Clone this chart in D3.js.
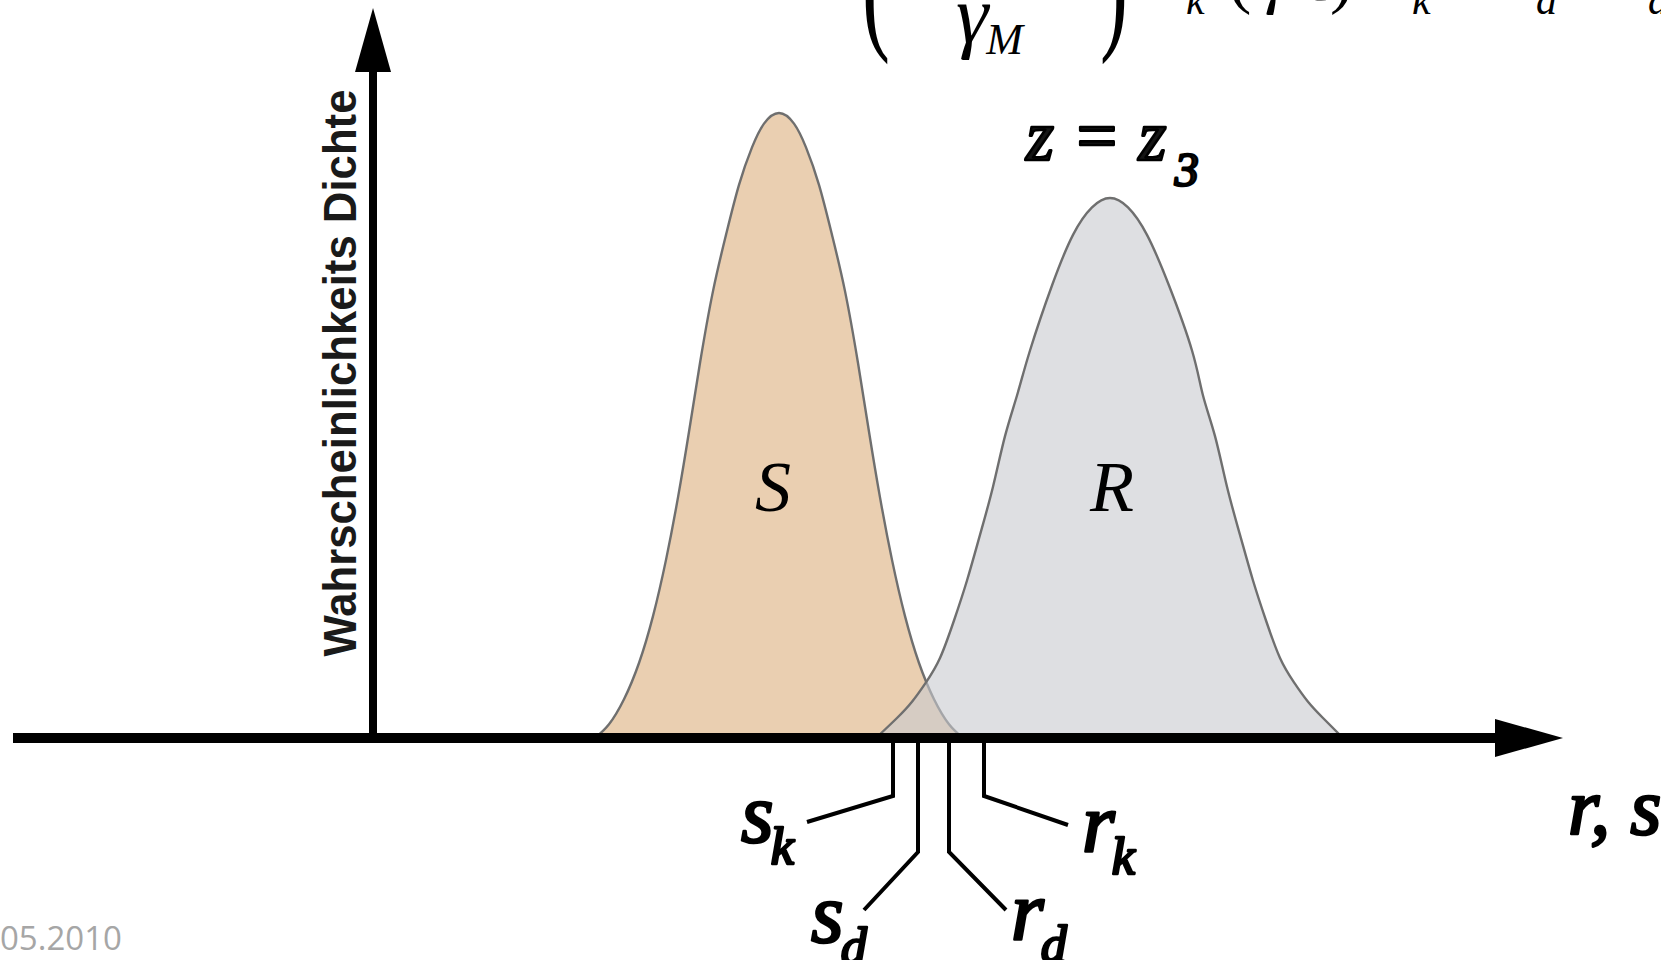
<!DOCTYPE html>
<html>
<head>
<meta charset="utf-8">
<script src="https://cdn.jsdelivr.net/npm/d3@7"></script>
<style>
  html, body { margin: 0; padding: 0; background: #ffffff; overflow: hidden; }
  svg { display: block; }
</style>
</head>
<body>
<svg id="chart" width="1661" height="960"></svg>
<script>
// Load effect S: position on the r,s axis and relative density
const sValues  = [22.2, 23.6, 25.1, 26.6, 28.0, 29.3, 30.5, 31.6, 32.7, 34.0, 35.3, 36.6, 37.9, 39.1, 40.6,
                  42.1, 43.3, 44.6, 45.9, 47.2, 48.5, 49.6, 50.7, 51.9, 53.2, 54.6, 56.1, 57.6, 59.0];
const sDensity = [0.000, 0.022, 0.062, 0.120, 0.195, 0.285, 0.385, 0.490, 0.600, 0.715, 0.805, 0.885, 0.945, 0.983, 1.000,
                  0.983, 0.945, 0.885, 0.805, 0.715, 0.600, 0.490, 0.385, 0.285, 0.195, 0.120, 0.062, 0.022, 0.000];

// Resistance R: position on the r,s axis and relative density
const rValues  = [50.3, 52.4, 53.9, 55.3, 56.7, 58.1, 59.4, 60.7, 62.0, 63.2, 64.4, 65.7, 67.9, 70.0, 71.9, 73.7,
                  75.5, 77.4, 79.6, 81.9, 83.0, 84.2, 85.4, 86.7, 88.0, 89.3, 90.7, 92.1, 93.5, 95.0, 97.0];
const rDensity = [0.000, 0.032, 0.058, 0.089, 0.128, 0.188, 0.252, 0.325, 0.402, 0.483, 0.548, 0.620, 0.724, 0.805, 0.849, 0.864,
                  0.849, 0.805, 0.724, 0.620, 0.548, 0.483, 0.402, 0.325, 0.252, 0.188, 0.128, 0.089, 0.058, 0.032, 0.000];

// Characteristic and design values marked below the axis
const markerBase   = ["s", "s", "r", "r"];
const markerSub    = ["k", "d", "d", "k"];
const markerValues = [52.0, 54.5, 57.6, 61.1];

// Axis extents (data units)
const xAxisExtent = [-36, 119];
const yAxisTop = 1.168;

const svg = d3.select("#chart");
const x = d3.scaleLinear().domain([0, 100]).range([373, 1373]);
const y = d3.scaleLinear().domain([0, 1]).range([738, 113]);

const serif = "'Liberation Serif', 'Times New Roman', serif";

// ---- density curves ----
const area = d3.area()
  .x(d => x(d[0]))
  .y0(y(0))
  .y1(d => y(d[1]))
  .curve(d3.curveNatural);
const line = d3.line()
  .x(d => x(d[0]))
  .y(d => y(d[1]))
  .curve(d3.curveNatural);

const sData = sValues.map((v, i) => [v, sDensity[i]]);
const rData = rValues.map((v, i) => [v, rDensity[i]]);

// keep the fills above the axis line
svg.append("clipPath").attr("id", "aboveAxis")
  .append("rect").attr("x", 0).attr("y", 0).attr("width", 1661).attr("height", y(0));

const curves = svg.append("g").attr("clip-path", "url(#aboveAxis)");
curves.append("path").attr("d", area(sData)).attr("fill", "#eacfb1");
curves.append("path").attr("d", line(sData)).attr("fill", "none")
  .attr("stroke", "#6f6f6f").attr("stroke-width", 2.4);

curves.append("path").attr("d", area(rData)).attr("fill", "rgb(200,202,206)").attr("fill-opacity", 0.6);
curves.append("path").attr("d", line(rData)).attr("fill", "none")
  .attr("stroke", "#6f6f6f").attr("stroke-width", 2.4);

// ---- axes ----
const x0 = x(0), yBase = y(0);
svg.append("line")
  .attr("x1", x(xAxisExtent[0])).attr("x2", x(xAxisExtent[1]) - 40)
  .attr("y1", yBase).attr("y2", yBase)
  .attr("stroke", "#000").attr("stroke-width", 10);
svg.append("path")
  .attr("d", `M${x(xAxisExtent[1])},${yBase} L${x(xAxisExtent[1]) - 68},${yBase - 19} L${x(xAxisExtent[1]) - 68},${yBase + 19} Z`)
  .attr("fill", "#000");

svg.append("line")
  .attr("x1", x0).attr("x2", x0)
  .attr("y1", yBase).attr("y2", y(yAxisTop) + 40)
  .attr("stroke", "#000").attr("stroke-width", 8);
svg.append("path")
  .attr("d", `M${x0},${y(yAxisTop)} L${x0 - 18},${y(yAxisTop) + 64} L${x0 + 18},${y(yAxisTop) + 64} Z`)
  .attr("fill", "#000");

svg.append("text")
  .attr("transform", `translate(${x0 - 17},373) rotate(-90)`)
  .attr("text-anchor", "middle")
  .attr("font-family", "'Liberation Sans', Arial, sans-serif")
  .attr("font-weight", "bold")
  .attr("font-size", 46)
  .attr("textLength", 567)
  .attr("lengthAdjust", "spacingAndGlyphs")
  .attr("fill", "#1a1a1a")
  .text("Wahrscheinlichkeits Dichte");

// heavy italic serif used for the symbols (italic face, emboldened by stroke)
function heavy(sel, size) {
  return sel.attr("font-family", serif).attr("font-style", "italic")
    .attr("font-size", size).attr("fill", "#000")
    .attr("stroke", "#000").attr("stroke-width", 2.6).attr("stroke-linejoin", "round");
}

// ---- value markers with leaders ----
const leaders = [
  { drop: 53, dx: -86, dy: 26, lx: -152, ly: 46 },
  { drop: 109, dx: -54, dy: 58, lx: -107, ly: 90 },
  { drop: 109, dx: 57, dy: 58, lx: 62, ly: 88 },
  { drop: 53, dx: 84, dy: 29, lx: 98, ly: 56 }
];
markerValues.forEach((v, i) => {
  const mx = x(v), top = yBase + 5, L = leaders[i];
  svg.append("path")
    .attr("d", `M${mx},${top} V${top + L.drop} l${L.dx},${L.dy}`)
    .attr("fill", "none").attr("stroke", "#000").attr("stroke-width", 4);
  const t = heavy(svg.append("text"), 84)
    .attr("x", mx + L.lx).attr("y", top + L.drop + L.ly);
  t.append("tspan").text(markerBase[i]);
  t.append("tspan").attr("dy", 22).attr("dx", -3).attr("font-size", 52).text(markerSub[i]);
});

// ---- labels ----
svg.append("text").attr("x", x(40.0)).attr("y", 511)
  .attr("text-anchor", "middle").attr("font-family", serif).attr("font-style", "italic")
  .attr("font-size", 72).text("S");
svg.append("text").attr("x", x(73.9)).attr("y", 511)
  .attr("text-anchor", "middle").attr("font-family", serif).attr("font-style", "italic")
  .attr("font-size", 72).text("R");

const zLab = heavy(svg.append("text"), 72).attr("x", 1026).attr("y", 160).attr("fill", "#151515");
zLab.append("tspan").text("z = z");
zLab.append("tspan").attr("dy", 26).attr("dx", 8).attr("font-size", 48).text("3");

heavy(svg.append("text"), 80).attr("x", 1568).attr("y", 834).text("r, s");

// ---- formula above the plot (bottom of the preceding line) ----
const formula = svg.append("g").attr("font-family", serif).attr("font-style", "italic").attr("fill", "#000");
formula.append("text").attr("transform", "translate(862,33) scale(1,1.75)")
  .attr("font-style", "normal").attr("font-size", 84).text("(");
formula.append("text").attr("transform", "translate(1100,33) scale(1,1.75)")
  .attr("font-style", "normal").attr("font-size", 84).text(")");
const gm = formula.append("text").attr("x", 956).attr("y", 42).attr("font-size", 82);
gm.append("tspan").text("γ");
gm.append("tspan").attr("dy", 12).attr("dx", -2).attr("font-size", 44).text("M");
formula.append("text").attr("x", 1186).attr("y", 14).attr("font-size", 42).text("k");
formula.append("text").attr("x", 1228).attr("y", 0).attr("font-style", "normal").attr("font-size", 70).text("(");
formula.append("text").attr("x", 1262).attr("y", 0).attr("font-size", 70).text("γ·S");
formula.append("text").attr("x", 1330).attr("y", 0).attr("font-style", "normal").attr("font-size", 70).text(")");
formula.append("text").attr("x", 1412).attr("y", 14).attr("font-size", 42).text("k");
formula.append("text").attr("x", 1536).attr("y", 14).attr("font-size", 42).text("d");
formula.append("text").attr("x", 1648).attr("y", 14).attr("font-size", 42).text("d");

// ---- date in footer ----
svg.append("text").attr("x", 0).attr("y", 950)
  .attr("font-family", "'Open Sans', 'Liberation Sans', sans-serif")
  .attr("font-size", 33).attr("fill", "#a6a6a6").text("05.2010");
</script>
</body>
</html>
